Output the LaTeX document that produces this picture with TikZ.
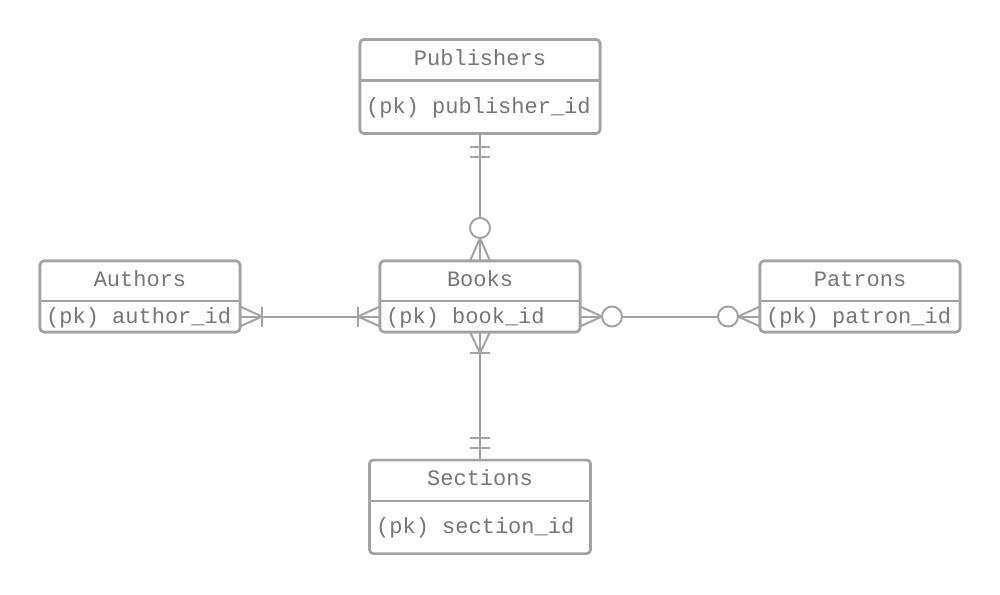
\documentclass[tikz,border=0pt]{standalone}
\usepackage{fontspec}
\newfontfamily\monof{Liberation Mono}
\usetikzlibrary{calc}
\definecolor{lg}{RGB}{163,163,163}
\definecolor{tg}{RGB}{118,118,118}
\begin{document}
\begin{tikzpicture}[x=1pt,y=-1pt,
  ent/.style={draw=lg, line width=2.6pt, rounded corners=4pt, inner sep=0pt, outer sep=0pt, fill=white},
  rowbox/.style={inner sep=0pt, outer sep=0pt},
  ttl/.style={text=tg, font=\monof\fontsize{22}{26}\selectfont, anchor=base, inner sep=0pt},
  fld/.style={text=tg, font=\monof\fontsize{22}{26}\selectfont, anchor=base west, inner sep=0pt},
  conn/.style={draw=lg, line width=2pt},
  divl/.style={draw=lg, line width=2.6pt},
  ring/.style={draw=lg, line width=2pt, fill=white}
]
\useasboundingbox[fill=white] (0,0) rectangle (1000,594);

% ---------- entity boxes (drawn first for anchors) ----------
\node[ent, minimum width=240pt, minimum height=94pt] (pub) at (480,86.5) {};
\node[ent, minimum width=200pt, minimum height=71pt] (auth) at (140,296.5) {};
\node[ent, minimum width=200pt, minimum height=71pt] (books) at (480,296.5) {};
\node[ent, minimum width=200pt, minimum height=71pt] (pat) at (860,296.5) {};
\node[ent, minimum width=221pt, minimum height=93.5pt] (sec) at (480,506.8) {};

% field rows (for connector attachment)
\node[rowbox, minimum width=200pt, minimum height=31pt, anchor=south] (authf) at (auth.south) {};
\node[rowbox, minimum width=200pt, minimum height=31pt, anchor=south] (booksf) at (books.south) {};
\node[rowbox, minimum width=200pt, minimum height=31pt, anchor=south] (patf) at (pat.south) {};

% ---------- connectors ----------
% Publishers -- Books
\draw[conn] (pub.south) -- (books.north);
\draw[conn] ($(pub.south)+(-10,13)$) -- ($(pub.south)+(10,13)$);
\draw[conn] ($(pub.south)+(-10,23)$) -- ($(pub.south)+(10,23)$);
\draw[conn] ($(books.north)+(-10,0)$) -- ($(books.north)+(0,-23)$) -- ($(books.north)+(10,0)$);
\node[ring, circle, minimum size=20pt, inner sep=0pt] (c1) at ($(books.north)+(0,-33)$) {};

% Authors -- Books
\draw[conn] (authf.east) -- (booksf.west);
\draw[conn] ($(authf.east)+(0,-10)$) -- ($(authf.east)+(22,0)$) -- ($(authf.east)+(0,10)$);
\draw[conn] ($(authf.east)+(22,-10)$) -- ($(authf.east)+(22,10)$);
\draw[conn] ($(booksf.west)+(0,-10)$) -- ($(booksf.west)+(-22,0)$) -- ($(booksf.west)+(0,10)$);
\draw[conn] ($(booksf.west)+(-22,-10)$) -- ($(booksf.west)+(-22,10)$);

% Books -- Patrons
\draw[conn] (booksf.east) -- (patf.west);
\draw[conn] ($(booksf.east)+(0,-10)$) -- ($(booksf.east)+(22,0)$) -- ($(booksf.east)+(0,10)$);
\node[ring, circle, minimum size=20pt, inner sep=0pt] (c2) at ($(booksf.east)+(32,0)$) {};
\draw[conn] ($(patf.west)+(0,-10)$) -- ($(patf.west)+(-22,0)$) -- ($(patf.west)+(0,10)$);
\node[ring, circle, minimum size=20pt, inner sep=0pt] (c3) at ($(patf.west)+(-32,0)$) {};

% Books -- Sections
\draw[conn] (books.south) -- (sec.north);
\draw[conn] ($(books.south)+(-10,0)$) -- ($(books.south)+(0,21)$) -- ($(books.south)+(10,0)$);
\draw[conn] ($(books.south)+(-10,21)$) -- ($(books.south)+(10,21)$);
\draw[conn] ($(sec.north)+(-10,-22)$) -- ($(sec.north)+(10,-22)$);
\draw[conn] ($(sec.north)+(-10,-12)$) -- ($(sec.north)+(10,-12)$);

% ---------- redraw boxes on top ----------
\node[ent, minimum width=240pt, minimum height=94pt] (pubb) at (pub) {};
\node[ent, minimum width=200pt, minimum height=71pt] (authb) at (auth) {};
\node[ent, minimum width=200pt, minimum height=71pt] (booksb) at (books) {};
\node[ent, minimum width=200pt, minimum height=71pt] (patb) at (pat) {};
\node[ent, minimum width=221pt, minimum height=93.5pt] (secb) at (sec) {};

% dividers
\draw[divl] ($(pub.north west)+(0,41.2)$) -- ($(pub.north east)+(0,41.2)$);
\draw[divl] ($(auth.north west)+(0,40)$) -- ($(auth.north east)+(0,40)$);
\draw[divl] ($(books.north west)+(0,40)$) -- ($(books.north east)+(0,40)$);
\draw[divl] ($(pat.north west)+(0,40)$) -- ($(pat.north east)+(0,40)$);
\draw[divl] ($(sec.north west)+(0,41)$) -- ($(sec.north east)+(0,41)$);

% ---------- texts ----------
\node[ttl] (pubt) at (480,66) {Publishers};
\node[fld] (pubk) at (366,113.3) {(pk) publisher\_id};
\node[ttl] (autht) at (140,286) {Authors};
\node[fld] (authk) at (46,323.5) {(pk) author\_id};
\node[ttl] (bookst) at (480,286) {Books};
\node[fld] (booksk) at (386,323.5) {(pk) book\_id};
\node[ttl] (patt) at (860,286) {Patrons};
\node[fld] (patk) at (766,323.5) {(pk) patron\_id};
\node[ttl] (sect) at (480,485.5) {Sections};
\node[fld] (seck) at (376,533) {(pk) section\_id};
\end{tikzpicture}
\end{document}
